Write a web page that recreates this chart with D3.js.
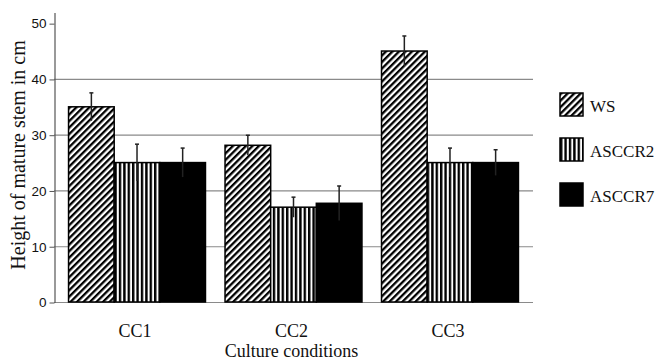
<!DOCTYPE html>
<html>
<head>
<meta charset="utf-8">
<script src="https://cdn.jsdelivr.net/npm/d3@7"></script>
<style>
  html, body { margin: 0; padding: 0; background: #fff; }
  svg { display: block; }
</style>
</head>
<body>
<svg id="chart"></svg>
<script>
// Chart data
const conditions = ['CC1', 'CC2', 'CC3'];
const seriesNames = ['WS', 'ASCCR2', 'ASCCR7'];
const wsValues = [35, 28.1, 45];
const asccr2Values = [25, 17, 25];
const asccr7Values = [25, 17.7, 25];
const wsErrors = [2.5, 1.8, 2.7];
const asccr2Errors = [3.3, 1.8, 2.6];
const asccr7Errors = [2.6, 3.1, 2.3];
const yTicks = [0, 10, 20, 30, 40, 50];

// SVG dimensions
let width = 661, height = 361;
let plotLeft = 54, plotRight = 533, plotTop = 12, plotBottom = 302;

let svg = d3.select('#chart')
    .attr('width', width)
    .attr('height', height);

// Patterns for bar fills
let defs = svg.append('defs');

let diag = defs.append('pattern')
    .attr('id', 'diag')
    .attr('patternUnits', 'userSpaceOnUse')
    .attr('width', 4.6)
    .attr('height', 4.6)
    .attr('patternTransform', 'rotate(45)');
diag.append('rect').attr('width', 4.6).attr('height', 4.6).attr('fill', '#fff');
diag.append('rect').attr('width', 2.3).attr('height', 4.6).attr('fill', '#000');

let vert = defs.append('pattern')
    .attr('id', 'vert')
    .attr('patternUnits', 'userSpaceOnUse')
    .attr('width', 4.4)
    .attr('height', 10);
vert.append('rect').attr('width', 4.4).attr('height', 10).attr('fill', '#fff');
vert.append('rect').attr('width', 2.4).attr('height', 10).attr('fill', '#000');

const fills = { 'WS': 'url(#diag)', 'ASCCR2': 'url(#vert)', 'ASCCR7': '#000' };

// Build rows from the arrays
const valuesBySeries = { 'WS': wsValues, 'ASCCR2': asccr2Values, 'ASCCR7': asccr7Values };
const errorsBySeries = { 'WS': wsErrors, 'ASCCR2': asccr2Errors, 'ASCCR7': asccr7Errors };
let rows = [];
conditions.forEach((c, i) => {
    seriesNames.forEach((s) => {
        rows.push({ cond: c, series: s, value: valuesBySeries[s][i], err: errorsBySeries[s][i] });
    });
});

// Scales
let x0 = d3.scaleBand()
    .domain(conditions)
    .range([plotLeft, plotRight])
    .paddingInner(0.125)
    .paddingOuter(0.093);

let x1 = d3.scaleBand()
    .domain(seriesNames)
    .range([0, x0.bandwidth()]);

let yScale = d3.scaleLinear()
    .domain([0, 52])
    .range([plotBottom, plotTop]);

// Gridlines
svg.append('g')
    .selectAll('line')
    .data(yTicks.filter((t) => t < 50))
    .enter()
    .append('line')
    .attr('x1', plotLeft)
    .attr('x2', plotRight)
    .attr('y1', (d) => yScale(d) + 0.5)
    .attr('y2', (d) => yScale(d) + 0.5)
    .attr('stroke', '#8a8a8a')
    .attr('stroke-width', 1.2);

// Y axis
let yAxis = d3.axisLeft(yScale)
    .tickValues(yTicks)
    .tickSize(5)
    .tickSizeOuter(0)
    .tickPadding(3);
let yG = svg.append('g')
    .attr('transform', `translate(${plotLeft + 0.5}, 0.5)`)
    .call(yAxis);
yG.select('.domain').attr('stroke', '#555').attr('stroke-width', 1.2);
yG.selectAll('.tick line').attr('stroke', '#555');
yG.selectAll('.tick text')
    .attr('font-family', '"Liberation Sans", Arial, sans-serif')
    .attr('font-size', '13.5px')
    .attr('fill', '#111');

// Bars
svg.append('g')
    .selectAll('rect')
    .data(rows)
    .enter()
    .append('rect')
    .attr('x', (d) => x0(d.cond) + x1(d.series))
    .attr('y', (d) => yScale(d.value))
    .attr('width', x1.bandwidth())
    .attr('height', (d) => yScale(0) - yScale(d.value))
    .attr('fill', (d) => fills[d.series])
    .attr('stroke', '#000')
    .attr('stroke-width', 1.5);

// Error bars
let errG = svg.append('g')
    .attr('stroke', '#222')
    .attr('stroke-width', 1.5);
errG.selectAll('line.err')
    .data(rows)
    .enter()
    .append('line')
    .attr('class', 'err')
    .attr('x1', (d) => x0(d.cond) + x1(d.series) + x1.bandwidth() / 2)
    .attr('x2', (d) => x0(d.cond) + x1(d.series) + x1.bandwidth() / 2)
    .attr('y1', (d) => yScale(d.value - d.err))
    .attr('y2', (d) => yScale(d.value + d.err));
errG.selectAll('line.cap')
    .data(rows)
    .enter()
    .append('line')
    .attr('class', 'cap')
    .attr('x1', (d) => x0(d.cond) + x1(d.series) + x1.bandwidth() / 2 - 2)
    .attr('x2', (d) => x0(d.cond) + x1(d.series) + x1.bandwidth() / 2 + 2)
    .attr('y1', (d) => yScale(d.value + d.err))
    .attr('y2', (d) => yScale(d.value + d.err));

// Category labels
svg.append('g')
    .selectAll('text')
    .data(conditions)
    .enter()
    .append('text')
    .attr('x', (d) => x0(d) + x0.bandwidth() / 2 - 2)
    .attr('y', 337)
    .attr('text-anchor', 'middle')
    .attr('font-family', '"Liberation Serif", "Times New Roman", serif')
    .attr('font-size', '18px')
    .attr('fill', '#111')
    .text((d) => d);

// Axis titles
svg.append('text')
    .attr('x', (plotLeft + plotRight) / 2 - 2)
    .attr('y', 357)
    .attr('text-anchor', 'middle')
    .attr('font-family', '"Liberation Serif", "Times New Roman", serif')
    .attr('font-size', '18px')
    .attr('fill', '#111')
    .text('Culture conditions');

svg.append('text')
    .attr('transform', 'translate(25, 155) rotate(-90)')
    .attr('text-anchor', 'middle')
    .attr('font-family', '"Liberation Serif", "Times New Roman", serif')
    .attr('font-size', '20px')
    .attr('fill', '#111')
    .text('Height of mature stem in cm');

// Legend
let legend = svg.append('g')
    .selectAll('g')
    .data(seriesNames)
    .enter()
    .append('g')
    .attr('transform', (d, i) => `translate(560, ${93 + i * 45})`);

legend.append('rect')
    .attr('width', 23)
    .attr('height', 23)
    .attr('fill', (d) => fills[d])
    .attr('stroke', '#000')
    .attr('stroke-width', 1.5);

legend.append('text')
    .attr('x', 30)
    .attr('y', 19)
    .attr('font-family', '"Liberation Serif", "Times New Roman", serif')
    .attr('font-size', '17px')
    .attr('fill', '#111')
    .text((d) => d);
</script>
</body>
</html>
